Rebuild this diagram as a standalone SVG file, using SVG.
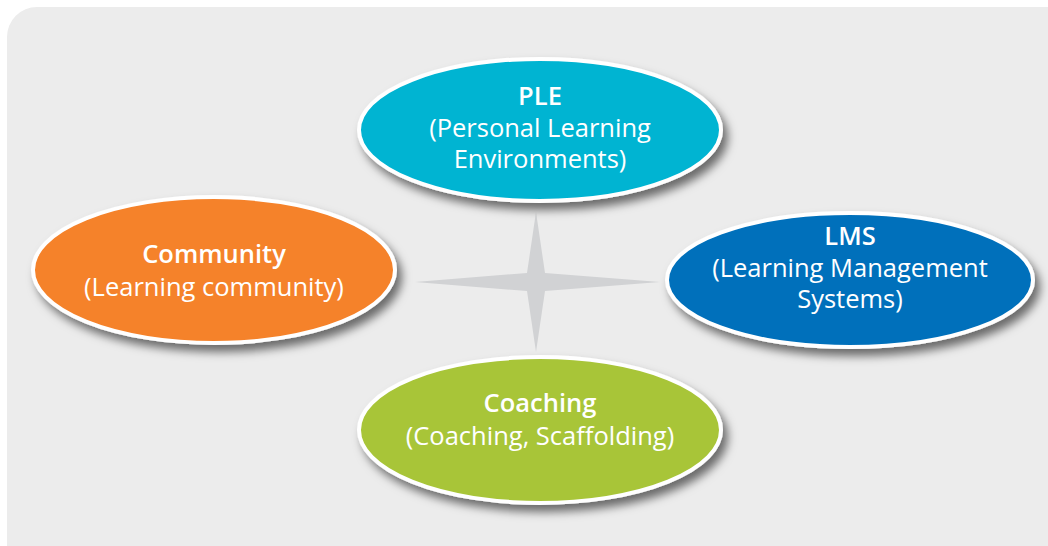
<svg xmlns="http://www.w3.org/2000/svg" width="1048" height="546" viewBox="0 0 1048 546">
<defs>
<filter id="sh" x="-20%" y="-20%" width="150%" height="160%">
<feDropShadow dx="5" dy="7" stdDeviation="5" flood-color="#000" flood-opacity="0.55"/>
</filter>
<style>
.node ellipse{stroke:#fff;stroke-width:4;filter:url(#sh)}
.t{font-family:"Open Sans","Noto Sans",sans-serif;font-size:25.5px;fill:#fff;text-anchor:middle}
.b{font-weight:600}
</style>
</defs>
<rect x="0" y="0" width="1048" height="546" fill="#fff"/>
<rect x="7" y="7" width="1080" height="580" rx="30" fill="#ececec"/>
<g id="connectors">
<polygon points="536,212 545,273 660,282 545,291 536,352 527,291 415,282 527,273" fill="#d1d2d4"/>
</g>
<g id="ple" class="node">
<ellipse cx="540" cy="130" rx="181" ry="71" fill="#00b4d2"/>
<text class="t b" x="540" y="105">PLE</text>
<text class="t" x="540" y="137">(Personal Learning</text>
<text class="t" x="540" y="168">Environments)</text>
</g>
<g id="community" class="node">
<ellipse cx="214" cy="270" rx="181" ry="73" fill="#f5822a"/>
<text class="t b" x="214" y="263">Community</text>
<text class="t" x="214" y="296">(Learning community)</text>
</g>
<g id="lms" class="node">
<ellipse cx="850" cy="280" rx="183" ry="67" fill="#0070bb"/>
<text class="t b" x="850" y="245">LMS</text>
<text class="t" x="850" y="277">(Learning Management</text>
<text class="t" x="850" y="308">Systems)</text>
</g>
<g id="coaching" class="node">
<ellipse cx="540" cy="430" rx="181" ry="73" fill="#a8c539"/>
<text class="t b" x="540" y="412">Coaching</text>
<text class="t" x="540" y="445">(Coaching, Scaffolding)</text>
</g>
</svg>
